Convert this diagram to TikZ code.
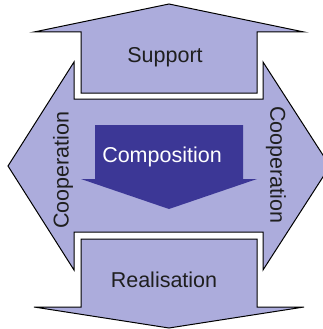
\documentclass[tikz,border=0pt]{standalone}
\usepackage{fontspec}
\setmainfont{Liberation Sans}
\definecolor{lav}{RGB}{172,172,220}
\definecolor{deep}{RGB}{60,55,150}
\begin{document}
\begin{tikzpicture}[x=1pt,y=-1pt,
  blockshape/.style={fill=lav,draw=black,line width=1pt,line join=miter},
  lbl/.style={font=\fontsize{21.5}{25}\selectfont,text=black!88,inner sep=0pt}]
\useasboundingbox (0,0) rectangle (323,329);
\clip (0,0) rectangle (323,329);
% hexagon with notches
\path[blockshape] (74,62) -- (8,166) -- (74,270) -- (74,232) -- (263,232) -- (263,270)
  -- (330,166) -- (263,62) -- (263,99) -- (74,99) -- cycle;
% support arrow (up)
\path[blockshape] (81,93) -- (81,32) -- (34,32) -- (169,4) -- (304,32) -- (257,32) -- (257,93) -- cycle;
% realisation arrow (down)
\path[blockshape] (81,239) -- (81,307) -- (34,307) -- (169,328) -- (304,307) -- (257,307) -- (257,239) -- cycle;
% composition arrow
\path[fill=deep] (95,125) -- (95,179) -- (81,179) -- (169,209) -- (257,179) -- (243,179) -- (243,125) -- cycle;
\node[lbl] (sup) at (165,57) {Support};
\node[lbl] (rea) at (164,280) {Realisation};
\node[lbl,text=white] (com) at (162,157) {Composition};
\node[lbl,rotate=90] (cl) at (63,170) {Cooperation};
\node[lbl,rotate=-90] (cr) at (276,165) {Cooperation};
\end{tikzpicture}
\end{document}
